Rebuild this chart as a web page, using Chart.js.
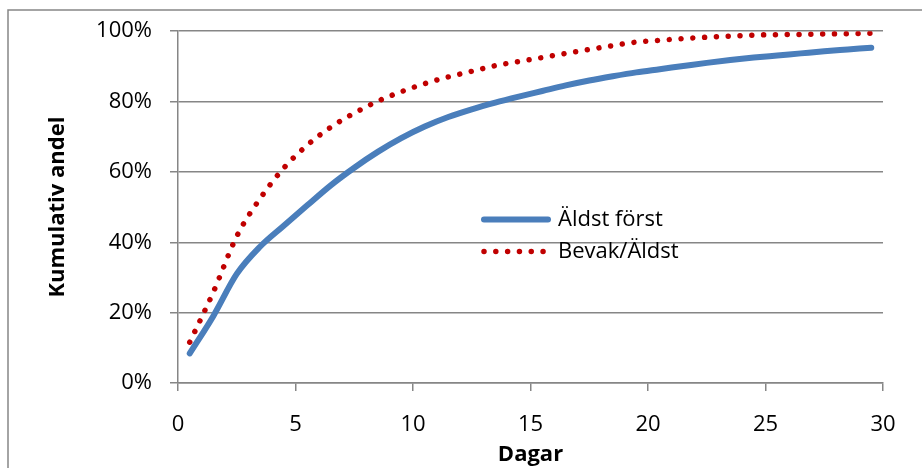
<!DOCTYPE html>
<html>
<head>
<meta charset="utf-8">
<script src="https://cdn.jsdelivr.net/npm/chart.js@4/dist/chart.umd.min.js"></script>
<style>
  html, body { margin: 0; padding: 0; background: #ffffff; }
  canvas { display: block; }
</style>
</head>
<body>
<canvas id="chart" width="922" height="468"></canvas>
<script>
// Dagar (x) and cumulative share in percent for each strategy
const days = [0.5, 1.5, 2.5, 3.5, 4.5, 5.5, 6.5, 7.5, 8.5, 9.5,
              10.5, 11.5, 12.5, 13.5, 14.5, 15.5, 16.5, 17.5, 18.5, 19.5,
              20.5, 21.5, 22.5, 23.5, 24.5, 25.5, 26.5, 27.5, 28.5, 29.5];

const aldstForst = [8.4, 19.0, 31.0, 38.8, 44.7, 50.5, 56.2, 61.2, 65.7, 69.6,
                    72.9, 75.6, 77.8, 79.7, 81.4, 83.0, 84.6, 86.0, 87.2, 88.3,
                    89.2, 90.1, 91.0, 91.8, 92.5, 93.1, 93.7, 94.3, 94.8, 95.3];

const bevakAldst = [11.6, 25.8, 41.7, 52.5, 61.1, 67.6, 72.7, 76.7, 80.1, 82.8,
                    85.1, 87.0, 88.6, 90.2, 91.4, 92.5, 93.7, 94.8, 95.9, 96.9,
                    97.4, 97.9, 98.3, 98.6, 98.9, 99.0, 99.1, 99.2, 99.3, 99.4];

const seriesNames = ['Äldst först', 'Bevak/Äldst'];
const xTickValues = [0, 5, 10, 15, 20, 25, 30];
const yTickValues = [0, 20, 40, 60, 80, 100];
const xTitle = 'Dagar';
const yTitle = 'Kumulativ andel';

const toPoints = (xs, ys) => xs.map((x, i) => ({ x: x, y: ys[i] }));

const FONT = '"Open Sans"';
const GRID = '#868686';
Chart.defaults.font.family = FONT;
Chart.defaults.font.size = 22;
Chart.defaults.color = '#000000';

// Thin frame around the chart (left and top edges)
const frame = {
  id: 'frame',
  beforeDraw(chart) {
    const ctx = chart.ctx;
    ctx.save();
    ctx.strokeStyle = GRID;
    ctx.lineWidth = 1.5;
    ctx.beginPath();
    ctx.moveTo(8, chart.height + 5);
    ctx.lineTo(8, 10);
    ctx.lineTo(chart.width + 5, 10);
    ctx.stroke();
    ctx.restore();
  }
};

// Legend drawn inside the plot area, using each dataset's own line style
const inlineLegend = {
  id: 'inlineLegend',
  afterDatasetsDraw(chart, args, opts) {
    const ctx = chart.ctx;
    chart.data.datasets.forEach((ds, i) => {
      const y = opts.y + i * opts.rowGap;
      ctx.save();
      ctx.strokeStyle = ds.borderColor;
      ctx.lineWidth = ds.borderWidth;
      ctx.lineCap = 'round';
      ctx.setLineDash(ds.borderDash || []);
      ctx.beginPath();
      ctx.moveTo(opts.x, y);
      ctx.lineTo(opts.x + opts.sampleWidth, y);
      ctx.stroke();
      ctx.setLineDash([]);
      ctx.fillStyle = '#000000';
      ctx.font = '22px ' + FONT;
      ctx.textBaseline = 'middle';
      ctx.textAlign = 'left';
      ctx.fillText(ds.label, opts.textX, y);
      ctx.restore();
    });
  }
};

new Chart(document.getElementById('chart'), {
  type: 'line',
  data: {
    datasets: [
      {
        label: seriesNames[0],
        data: toPoints(days, aldstForst),
        borderColor: '#4A7EBB',
        borderWidth: 6,
        borderCapStyle: 'round',
        borderJoinStyle: 'round',
        cubicInterpolationMode: 'monotone',
        pointRadius: 0,
        fill: false
      },
      {
        label: seriesNames[1],
        data: toPoints(days, bevakAldst),
        borderColor: '#C00000',
        borderWidth: 5.5,
        borderDash: [0.01, 11.8],
        borderCapStyle: 'round',
        borderJoinStyle: 'round',
        cubicInterpolationMode: 'monotone',
        pointRadius: 0,
        fill: false
      }
    ]
  },
  options: {
    responsive: false,
    animation: false,
    devicePixelRatio: 1,
    layout: { padding: { top: 31, right: 39, bottom: 0, left: 0 } },
    plugins: {
      legend: { display: false },
      tooltip: { enabled: false },
      inlineLegend: { x: 484, sampleWidth: 64, textX: 558, y: 219.5, rowGap: 32 }
    },
    scales: {
      x: {
        type: 'linear',
        min: 0,
        max: 30,
        afterBuildTicks(scale) { scale.ticks = xTickValues.map(v => ({ value: v })); },
        afterFit(scale) { scale.height = 85; },
        ticks: { padding: 20.6, maxRotation: 0, autoSkip: false, font: { size: 22 } },
        grid: { drawOnChartArea: false, drawTicks: true, tickLength: 8, color: GRID, lineWidth: 1.5 },
        border: { display: true, color: GRID, width: 1.5 },
        title: { display: true, text: xTitle, font: { size: 22, weight: 'bold' }, padding: { top: 0, bottom: 0.3 } }
      },
      y: {
        type: 'linear',
        min: 0,
        max: 100,
        afterBuildTicks(scale) { scale.ticks = yTickValues.map(v => ({ value: v })); },
        afterFit(scale) { scale.width = 178; },
        ticks: { padding: 18, callback: v => v + '%', font: { size: 22 } },
        grid: { drawOnChartArea: true, drawTicks: true, tickLength: 8, color: GRID, lineWidth: 1.5 },
        border: { display: true, color: GRID, width: 1.5 },
        title: { display: true, text: yTitle, font: { size: 22, weight: 'bold' }, padding: { top: 44.8, bottom: 0 } }
      }
    }
  },
  plugins: [frame, inlineLegend]
});
</script>
</body>
</html>
